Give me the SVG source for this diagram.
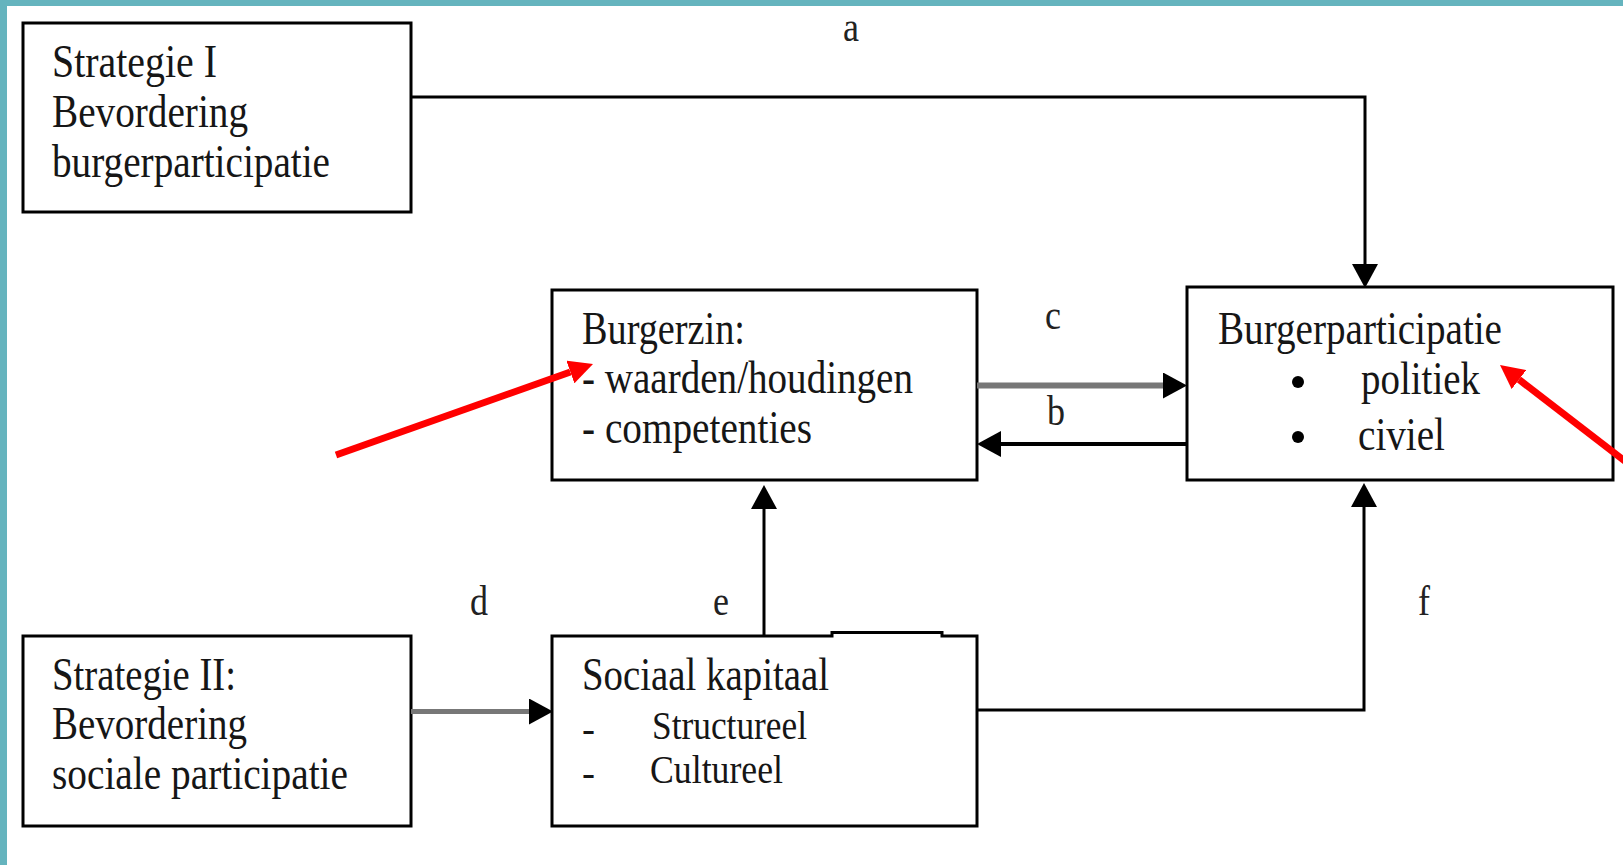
<svg xmlns="http://www.w3.org/2000/svg" width="1623" height="865" viewBox="0 0 1623 865">
<style>
.box{fill:#fff;stroke:#000;stroke-width:3}
.t{font-family:"Liberation Serif","Times New Roman",serif;font-size:39px;fill:#161616}
.lbl{font-family:"Liberation Serif","Times New Roman",serif;font-size:36px;fill:#222}
.blk{fill:none;stroke:#000;stroke-width:3}
.gry{fill:none;stroke:#777;stroke-width:6}
.red{fill:none;stroke:#ff0000;stroke-width:7}
</style>
<defs>
<marker id="ah" markerUnits="userSpaceOnUse" markerWidth="24" markerHeight="26" refX="0" refY="13" orient="auto" viewBox="0 0 24 26">
<path d="M0,0 L24,13 L0,26 Z" fill="#000"/>
</marker>
<marker id="rh" markerUnits="userSpaceOnUse" markerWidth="24" markerHeight="24" refX="0" refY="12" orient="auto" viewBox="0 0 24 24">
<path d="M0,0 L24,12 L0,24 Z" fill="#ff0000"/>
</marker>
</defs>
<rect x="0" y="0" width="1623" height="865" fill="#fff"/>
<rect x="0" y="0" width="1623" height="6" fill="#65b4be"/>
<rect x="0" y="0" width="7" height="865" fill="#65b4be"/>

<g id="strategie1">
<rect class="box" x="23" y="23" width="388" height="189"/>
<text class="t" transform="translate(52,77) scale(1,1.18)" textLength="165" lengthAdjust="spacingAndGlyphs">Strategie I</text>
<text class="t" transform="translate(52,127) scale(1,1.18)" textLength="196" lengthAdjust="spacingAndGlyphs">Bevordering</text>
<text class="t" transform="translate(52,177) scale(1,1.18)" textLength="278" lengthAdjust="spacingAndGlyphs">burgerparticipatie</text>
</g>

<g id="burgerzin">
<rect class="box" x="552" y="290" width="425" height="190"/>
<text class="t" transform="translate(582,344) scale(1,1.18)" textLength="163" lengthAdjust="spacingAndGlyphs">Burgerzin:</text>
<text class="t" transform="translate(582,393) scale(1,1.18)" textLength="331" lengthAdjust="spacingAndGlyphs">- waarden/houdingen</text>
<text class="t" transform="translate(582,443) scale(1,1.18)" textLength="230" lengthAdjust="spacingAndGlyphs">- competenties</text>
</g>

<g id="burgerparticipatie">
<rect class="box" x="1187" y="287" width="426" height="193"/>
<text class="t" transform="translate(1218,344) scale(1,1.18)" textLength="284" lengthAdjust="spacingAndGlyphs">Burgerparticipatie</text>
<circle cx="1298" cy="382" r="6" fill="#000"/>
<circle cx="1298" cy="437" r="6" fill="#000"/>
<text class="t" transform="translate(1361,394) scale(1,1.18)" textLength="119" lengthAdjust="spacingAndGlyphs">politiek</text>
<text class="t" transform="translate(1358,450) scale(1,1.18)" textLength="87" lengthAdjust="spacingAndGlyphs">civiel</text>
</g>

<g id="strategie2">
<rect class="box" x="23" y="636" width="388" height="190"/>
<text class="t" transform="translate(52,690) scale(1,1.18)" textLength="184" lengthAdjust="spacingAndGlyphs">Strategie II:</text>
<text class="t" transform="translate(52,739) scale(1,1.18)" textLength="195" lengthAdjust="spacingAndGlyphs">Bevordering</text>
<text class="t" transform="translate(52,789) scale(1,1.18)" textLength="296" lengthAdjust="spacingAndGlyphs">sociale participatie</text>
</g>

<g id="sociaalkapitaal">
<path class="box" d="M552,636 H832 V632.5 H942 V636 H977 V826 H552 Z"/>
<text class="t" transform="translate(582,690) scale(1,1.18)" textLength="247" lengthAdjust="spacingAndGlyphs">Sociaal kapitaal</text>
<text class="t" x="582" y="742">-</text>
<text class="t" x="652" y="739" textLength="155" lengthAdjust="spacingAndGlyphs">Structureel</text>
<text class="t" x="582" y="786">-</text>
<text class="t" x="650" y="783" textLength="133" lengthAdjust="spacingAndGlyphs">Cultureel</text>
</g>

<g id="connectors">
<path class="blk" d="M411,97 H1365 V264" marker-end="url(#ah)"/>
<line class="gry" x1="977" y1="385.5" x2="1163" y2="385.5" marker-end="url(#ah)"/>
<line class="blk" style="stroke-width:4" x1="1187" y1="444" x2="1001" y2="444" marker-end="url(#ah)"/>
<line class="blk" x1="764" y1="636" x2="764" y2="509" marker-end="url(#ah)"/>
<line class="gry" style="stroke-width:5" x1="411" y1="711.5" x2="529" y2="711.5" marker-end="url(#ah)"/>
<path class="blk" d="M977,710 H1364 V507" marker-end="url(#ah)"/>
<line class="red" x1="336" y1="455" x2="570.4" y2="372" marker-end="url(#rh)"/>
<line class="red" x1="1626" y1="462" x2="1519" y2="379.6" marker-end="url(#rh)"/>
<text class="lbl" transform="translate(843,41) scale(1,1.15)">a</text>
<text class="lbl" transform="translate(1045,329) scale(1,1.15)">c</text>
<text class="lbl" transform="translate(1047,425) scale(1,1.15)">b</text>
<text class="lbl" transform="translate(470,615) scale(1,1.15)">d</text>
<text class="lbl" transform="translate(713,615) scale(1,1.15)">e</text>
<text class="lbl" transform="translate(1418,615) scale(1,1.15)">f</text>
</g>
</svg>
